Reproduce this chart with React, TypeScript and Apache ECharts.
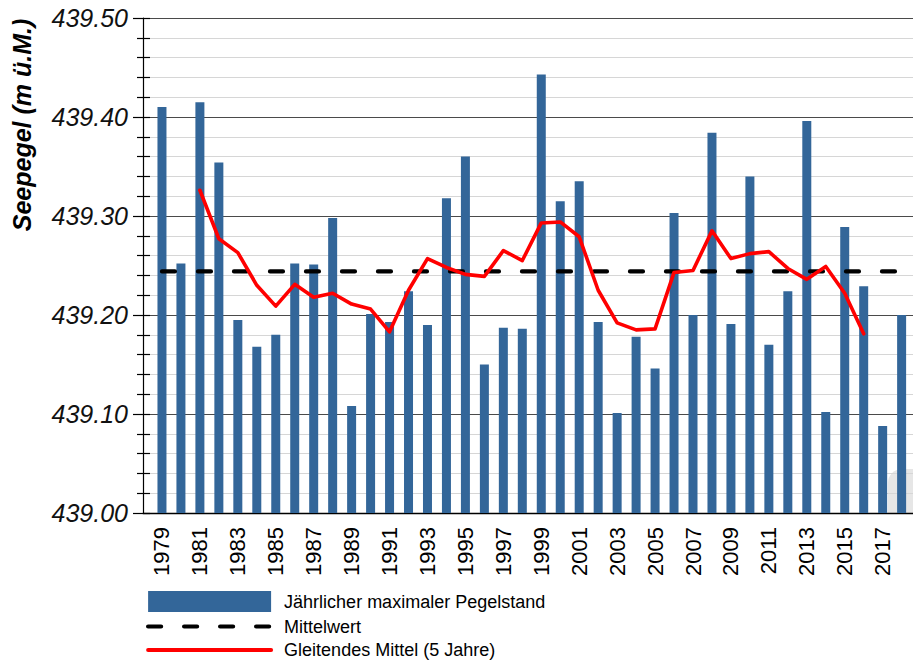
import React, { useEffect, useRef } from "react";
import * as echarts from "echarts";

const years: number[] = [
  1979, 1980, 1981, 1982, 1983, 1984, 1985, 1986, 1987, 1988,
  1989, 1990, 1991, 1992, 1993, 1994, 1995, 1996, 1997, 1998,
  1999, 2000, 2001, 2002, 2003, 2004, 2005, 2006, 2007, 2008,
  2009, 2010, 2011, 2012, 2013, 2014, 2015, 2016, 2017, 2018,
];

const maxLevel: number[] = [
  439.41, 439.252, 439.415, 439.354, 439.195, 439.168, 439.18, 439.252, 439.251, 439.298,
  439.108, 439.201, 439.193, 439.224, 439.19, 439.318, 439.36, 439.15, 439.187, 439.186,
  439.443, 439.315, 439.335, 439.193, 439.101, 439.178, 439.146, 439.303, 439.2, 439.384,
  439.191, 439.34, 439.17, 439.224, 439.396, 439.102, 439.289, 439.229, 439.088, 439.2,
];

const movingAvgYears: number[] = [
  1981, 1982, 1983, 1984, 1985, 1986, 1987, 1988, 1989, 1990,
  1991, 1992, 1993, 1994, 1995, 1996, 1997, 1998, 1999, 2000,
  2001, 2002, 2003, 2004, 2005, 2006, 2007, 2008, 2009, 2010,
  2011, 2012, 2013, 2014, 2015, 2016,
];

const movingAvg: number[] = [
  439.326, 439.277, 439.263, 439.23, 439.209, 439.231, 439.218, 439.222, 439.211, 439.206,
  439.183, 439.225, 439.257, 439.248, 439.241, 439.239, 439.265, 439.255, 439.293, 439.294,
  439.279, 439.225, 439.192, 439.185, 439.186, 439.243, 439.245, 439.285, 439.257, 439.262,
  439.264, 439.247, 439.236, 439.249, 439.222, 439.181,
];

const meanLevel = 439.244;

const yMin = 439.0;
const yMax = 439.5;
const yStep = 0.1;

const seriesNames = [
  "Jährlicher maximaler Pegelstand",
  "Mittelwert",
  "Gleitendes Mittel (5 Jahre)",
];
const yAxisTitle = "Seepegel (m ü.M.)";

const FONT = "'Liberation Sans', Arial, Helvetica, sans-serif";

export default function App() {
  const ref = useRef<HTMLDivElement>(null);

  useEffect(() => {
    if (!ref.current) return;
    const chart = echarts.init(ref.current, undefined, { renderer: "svg" });

    const barData = years.map((y, i) => [y, maxLevel[i]]);
    const meanData = [
      [years[0], meanLevel],
      [years[years.length - 1], meanLevel],
    ];
    const maData = movingAvgYears.map((y, i) => [y, movingAvg[i]]);

    const option: any = {
      animation: false,
      backgroundColor: "#ffffff",
      textStyle: { fontFamily: FONT },
      grid: { left: 143, right: 0, top: 18, bottom: 153, containLabel: false },
      xAxis: {
        type: "value",
        min: 1978,
        max: 2018.6,
        interval: 1,
        axisLine: { show: true, lineStyle: { color: "#000", width: 1.3 } },
        axisTick: { show: false },
        splitLine: { show: false },
        axisLabel: {
          rotate: 90,
          margin: 14,
          fontSize: 22,
          color: "#000",
          fontFamily: FONT,
          formatter: (v: number) => {
            const r = Math.round(v);
            if (Math.abs(v - r) > 1e-6) return "";
            if (r < 1979 || r > 2017) return "";
            return r % 2 === 1 ? String(r) : "";
          },
        },
      },
      yAxis: [
        {
          type: "value",
          position: "left",
          min: yMin,
          max: yMax,
          interval: yStep,
          axisLine: { show: true, lineStyle: { color: "#000", width: 1.2 } },
          axisTick: { show: true, length: 10, lineStyle: { color: "#000", width: 1.2 } },
          minorTick: { show: true, splitNumber: 5, length: 6, lineStyle: { color: "#000", width: 1.2 } },
          splitLine: { show: true, lineStyle: { color: "#4a4a4a", width: 1.2 } },
          minorSplitLine: { show: true, lineStyle: { color: "#d6d6d6", width: 1.2 } },
          axisLabel: {
            margin: 15,
            fontSize: 25,
            fontStyle: "italic",
            color: "#111",
            fontFamily: FONT,
            formatter: (v: number) => v.toFixed(2),
          },
        },
        {
          type: "value",
          position: "left",
          min: yMin,
          max: yMax,
          interval: yStep,
          axisLine: { show: false },
          axisTick: { show: true, inside: true, length: 7, lineStyle: { color: "#000", width: 1.2 } },
          minorTick: { show: true, splitNumber: 5, length: 7, lineStyle: { color: "#000", width: 1.2 } },
          splitLine: { show: false },
          minorSplitLine: { show: false },
          axisLabel: { show: false },
        },
      ],
      legend: {
        orient: "vertical",
        left: 146,
        top: 591,
        height: 120,
        padding: 0,
        itemWidth: 123,
        itemHeight: 21,
        itemGap: 5.5,
        selectedMode: false,
        textStyle: {
          fontSize: 18,
          color: "#000",
          fontFamily: FONT,
          padding: [0, 0, 0, 8],
        },
        data: [
          { name: seriesNames[0], icon: "rect" },
          {
            name: seriesNames[1],
            itemStyle: { opacity: 0 },
            lineStyle: { width: 4.2, color: "#000", type: [13, 23], cap: "round" },
          },
          {
            name: seriesNames[2],
            itemStyle: { opacity: 0 },
            lineStyle: { width: 4, color: "#ff0000", cap: "round" },
          },
        ],
      },
      graphic: [
        {
          type: "rect",
          z: -1,
          silent: true,
          shape: { x: 888, y: 469, width: 40, height: 44, r: [14, 0, 0, 0] },
          style: { fill: "#e6e6e6" },
        },
        {
          type: "text",
          x: 22,
          y: 125,
          rotation: Math.PI / 2,
          style: {
            text: yAxisTitle,
            font: `italic bold 25px ${FONT}`,
            fill: "#000",
            align: "center",
            verticalAlign: "middle",
          },
        },
      ],
      series: [
        {
          name: seriesNames[0],
          type: "bar",
          yAxisIndex: 0,
          barWidth: 9,
          itemStyle: { color: "#336699" },
          data: barData,
          z: 2,
        },
        {
          name: seriesNames[1],
          type: "line",
          yAxisIndex: 0,
          symbol: "none",
          showSymbol: false,
          lineStyle: { color: "#000", width: 4.2, type: [13, 23], cap: "round" },
          itemStyle: { color: "#000" },
          data: meanData,
          z: 3,
        },
        {
          name: seriesNames[2],
          type: "line",
          yAxisIndex: 0,
          symbol: "none",
          showSymbol: false,
          lineStyle: { color: "#ff0000", width: 3.6, cap: "round", join: "round" },
          itemStyle: { color: "#ff0000" },
          data: maData,
          z: 4,
        },
      ],
    };

    chart.setOption(option);
    return () => {
      chart.dispose();
    };
  }, []);

  return (
    <div
      ref={ref}
      style={{ position: "fixed", left: 0, top: 0, width: 913, height: 666, background: "#fff" }}
    />
  );
}
